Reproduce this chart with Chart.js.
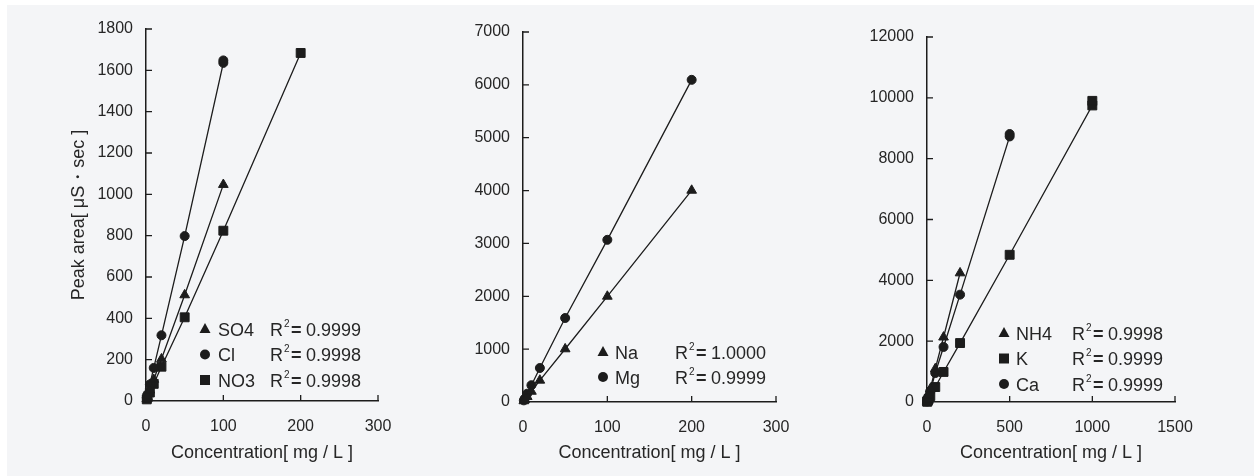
<!DOCTYPE html>
<html>
<head>
<meta charset="utf-8">
<script src="https://cdn.jsdelivr.net/npm/chart.js@4.4.0/dist/chart.umd.min.js"></script>
<style>
  html, body { margin: 0; padding: 0; background: #fff; }
  #bg { position: absolute; left: 7px; top: 5px; width: 1247px; height: 471px; background: #f4f5f7; }
  canvas { position: absolute; top: 0; }
</style>
</head>
<body>
<div id="bg"></div>
<canvas id="anions" width="418" height="476" style="left:0px"></canvas>
<canvas id="naMg" width="418" height="476" style="left:418px"></canvas>
<canvas id="nh4KCa" width="418" height="476" style="left:836px"></canvas>
<script>
// --- calibration data: concentration (mg/L) vs peak area (uS*sec) ---
const concSO4 = [1, 2, 5, 10, 20, 50, 100];
const areaSO4 = [10, 21, 52, 104, 203, 513, 1047];
const concCl  = [1, 2, 5, 10, 20, 50, 100, 100];
const areaCl  = [16, 32, 80, 160, 318, 798, 1636, 1648];
const concNO3 = [1, 2, 5, 10, 20, 50, 100, 200];
const areaNO3 = [8, 17, 41, 83, 166, 405, 824, 1684];

const concNa = [1, 2, 5, 10, 20, 50, 100, 200];
const areaNa = [20, 40, 100, 200, 410, 1003, 1998, 4003];
const concMg = [1, 2, 5, 10, 20, 50, 100, 200];
const areaMg = [31, 62, 157, 318, 643, 1589, 3068, 6095];

const concNH4 = [1, 2, 5, 10, 20, 50, 100, 200];
const areaNH4 = [21, 43, 107, 214, 430, 1090, 2130, 4240];
const concK   = [1, 2, 5, 10, 20, 50, 100, 200, 500, 1000, 1000];
const areaK   = [10, 20, 49, 98, 196, 492, 988, 1938, 4840, 9750, 9900];
const concCa  = [1, 2, 5, 10, 20, 50, 100, 200, 500, 500];
const areaCa  = [18, 36, 90, 180, 360, 952, 1810, 3530, 8730, 8810];

// axis ticks
const xTicksA = [0, 100, 200, 300];
const yTicksA = [0, 200, 400, 600, 800, 1000, 1200, 1400, 1600, 1800];
const xTicksB = [0, 100, 200, 300];
const yTicksB = [0, 1000, 2000, 3000, 4000, 5000, 6000, 7000];
const xTicksC = [0, 500, 1000, 1500];
const yTicksC = [0, 2000, 4000, 6000, 8000, 10000, 12000];

// legend text
const namesA = ['SO4', 'Cl', 'NO3'];
const r2A    = ['0.9999', '0.9998', '0.9998'];
const namesB = ['Na', 'Mg'];
const r2B    = ['1.0000', '0.9999'];
const namesC = ['NH4', 'K', 'Ca'];
const r2C    = ['0.9998', '0.9999', '0.9999'];

const INK = '#1c1c1c';
const TXT = '#262626';
const FONT = "'Liberation Sans', Arial, sans-serif";

const pts = (xs, ys) => xs.map((x, i) => ({ x: x, y: ys[i] }));

function serie(xs, ys, style) {
    const r = style === 'circle' ? 4.5 : (style === 'rect' ? 6.3 : 5.6);
    return {
        data: pts(xs, ys),
        showLine: true,
        borderColor: INK,
        borderWidth: 1.3,
        backgroundColor: INK,
        pointStyle: style,
        pointRadius: r,
        pointBorderWidth: 1,
        pointBorderColor: INK,
        pointBackgroundColor: INK,
        clip: false
    };
}

// tick marks pointing into the plot
const innerTicks = {
    id: 'innerTicks',
    afterDraw(chart) {
        const ctx = chart.ctx, a = chart.chartArea;
        const xs = chart.scales.x, ys = chart.scales.y;
        ctx.save();
        ctx.strokeStyle = INK;
        ctx.lineWidth = 1.3;
        ctx.beginPath();
        xs.ticks.forEach(t => {
            if (t.value === xs.min) return;
            const px = xs.getPixelForValue(t.value);
            ctx.moveTo(px, a.bottom);
            ctx.lineTo(px, a.bottom - 6);
        });
        ys.ticks.forEach(t => {
            if (t.value === ys.min) return;
            const py = ys.getPixelForValue(t.value);
            ctx.moveTo(a.left, py);
            ctx.lineTo(a.left + 6, py);
        });
        ctx.stroke();
        ctx.restore();
    }
};

// legend with R^2 values, drawn inside the plot
const r2Legend = {
    id: 'r2Legend',
    afterDraw(chart, args, opts) {
        const ctx = chart.ctx;
        ctx.save();
        ctx.textBaseline = 'middle';
        opts.names.forEach((name, i) => {
            const y = opts.y + i * opts.rowH;
            const st = chart.data.datasets[i].pointStyle;
            ctx.fillStyle = INK;
            ctx.beginPath();
            if (st === 'triangle') {
                ctx.moveTo(opts.mx, y - 6);
                ctx.lineTo(opts.mx + 5.5, y + 4);
                ctx.lineTo(opts.mx - 5.5, y + 4);
                ctx.closePath();
            } else if (st === 'circle') {
                ctx.arc(opts.mx, y, 5, 0, Math.PI * 2);
            } else {
                ctx.rect(opts.mx - 5, y - 5, 10, 10);
            }
            ctx.fill();
            const ty = y + 2;
            ctx.fillStyle = TXT;
            ctx.font = '18px ' + FONT;
            ctx.fillText(name, opts.tx, ty);
            ctx.fillText('R', opts.rx, ty);
            const wR = ctx.measureText('R').width;
            ctx.font = '10px ' + FONT;
            ctx.fillText('2', opts.rx + wR + 1, ty - 7);
            ctx.font = 'bold 18px ' + FONT;
            ctx.fillText('=', opts.rx + wR + 8, ty);
            ctx.font = '18px ' + FONT;
            ctx.fillText(opts.r2[i], opts.rx + wR + 23, ty);
        });
        ctx.restore();
    }
};

function panel(id, sets, xt, yt, lay, legend, yTitle) {
    return new Chart(document.getElementById(id), {
        type: 'scatter',
        data: { datasets: sets },
        plugins: [innerTicks, r2Legend],
        options: {
            responsive: false,
            animation: false,
            layout: { padding: { left: 0, top: lay.top, right: lay.right, bottom: 0 } },
            plugins: {
                legend: { display: false },
                tooltip: { enabled: false },
                r2Legend: legend
            },
            scales: {
                x: {
                    type: 'linear',
                    min: xt[0], max: xt[xt.length - 1],
                    afterBuildTicks: s => { s.ticks = xt.map(v => ({ value: v })); },
                    afterFit: s => { s.height = lay.xH; },
                    grid: { display: true, drawOnChartArea: false, drawTicks: false },
                    border: { display: true, color: INK, width: 1.5 },
                    ticks: {
                        color: TXT, padding: 16, maxRotation: 0,
                        font: { family: FONT, size: 16 },
                        callback: v => String(v)
                    },
                    title: {
                        display: true,
                        text: 'Concentration[ mg / L ]',
                        color: TXT,
                        padding: { top: 0, bottom: 12 },
                        font: { family: FONT, size: 18 }
                    }
                },
                y: {
                    type: 'linear',
                    min: yt[0], max: yt[yt.length - 1],
                    afterBuildTicks: s => { s.ticks = yt.map(v => ({ value: v })); },
                    afterFit: s => { s.width = lay.yW; },
                    grid: { display: true, drawOnChartArea: false, drawTicks: false },
                    border: { display: true, color: INK, width: 1.5 },
                    ticks: {
                        color: TXT, padding: 13,
                        font: { family: FONT, size: 16 },
                        callback: v => String(v)
                    },
                    title: {
                        display: !!yTitle,
                        text: yTitle || '',
                        color: TXT,
                        padding: { top: 68, bottom: 0 },
                        font: { family: FONT, size: 18 }
                    }
                }
            }
        }
    });
}

panel('anions',
    [serie(concSO4, areaSO4, 'triangle'), serie(concCl, areaCl, 'circle'), serie(concNO3, areaNO3, 'rect')],
    xTicksA, yTicksA,
    { top: 29, right: 40, xH: 75, yW: 146 },
    { names: namesA, r2: r2A, mx: 205, tx: 218, rx: 270, y: 329, rowH: 25.5 },
    'Peak area[ μS・sec ]');

panel('naMg',
    [serie(concNa, areaNa, 'triangle'), serie(concMg, areaMg, 'circle')],
    xTicksB, yTicksB,
    { top: 32, right: 60, xH: 74, yW: 105 },
    { names: namesB, r2: r2B, mx: 185, tx: 197, rx: 257, y: 352, rowH: 25 });

panel('nh4KCa',
    [serie(concNH4, areaNH4, 'triangle'), serie(concK, areaK, 'rect'), serie(concCa, areaCa, 'circle')],
    xTicksC, yTicksC,
    { top: 37, right: 79, xH: 74, yW: 91 },
    { names: namesC, r2: r2C, mx: 168, tx: 180, rx: 236, y: 333, rowH: 25.5 });
</script>
</body>
</html>
